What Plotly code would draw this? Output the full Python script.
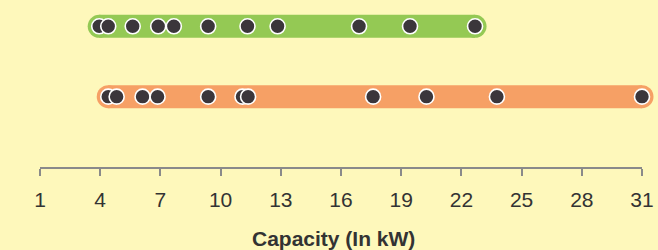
import plotly.graph_objects as go

# Data
rows = ["Series A", "Series B"]
row_positions = [2, 1]
series_a_values = [3.95, 4.40, 5.62, 6.89, 7.67, 9.38, 11.34, 12.84, 16.90, 19.44, 22.68]
series_b_values = [4.40, 4.82, 6.11, 6.86, 9.38, 11.09, 11.37, 17.60, 20.26, 23.77, 31.0]
bar_colors = ["#94c954", "#f6a065"]
tick_values = list(range(1, 32, 3))

fig = go.Figure()

for name, ypos, vals, col in zip(rows, row_positions, [series_a_values, series_b_values], bar_colors):
    lo, hi = min(vals), max(vals)
    # range bar with rounded ends
    fig.add_trace(go.Scatter(
        x=[lo, hi], y=[ypos, ypos], mode="lines+markers",
        line=dict(color=col, width=23),
        marker=dict(color=col, size=23, line=dict(width=0)),
        cliponaxis=False, hoverinfo="skip", showlegend=False, name=name,
    ))
    fig.add_trace(go.Scatter(
        x=sorted(vals), y=[ypos] * len(vals), mode="markers",
        marker=dict(color="#3b363b", size=15, line=dict(color="white", width=1.6)),
        cliponaxis=False, showlegend=False, name=name,
    ))

fig.update_layout(
    width=658, height=250,
    margin=dict(l=40, r=16, t=10, b=83, autoexpand=False),
    paper_bgcolor="#fef8bb", plot_bgcolor="#fef8bb",
    font=dict(family="Liberation Sans, Arial, sans-serif", color="#333333"),
    xaxis=dict(
        range=[1, 31], tickvals=tick_values, ticktext=[str(v) for v in tick_values],
        showgrid=False, zeroline=False, showline=True, linecolor="#8a8a8a", linewidth=2,
        ticks="outside", ticklen=7, tickwidth=2, tickcolor="#8a8a8a",
        tickfont=dict(size=21, color="#333333"), automargin=False,
        ticklabelstandoff=6,
    ),
    yaxis=dict(range=[0, 2.232], visible=False, showgrid=False, zeroline=False),
    annotations=[dict(
        text="<b>Capacity (In kW)</b>", xref="paper", yref="paper",
        x=0.4875, y=0, xanchor="center", yanchor="middle", yshift=-71,
        showarrow=False, font=dict(size=21, color="#333333"),
    )],
)

fig.write_html(
    "out.html",
    config={"displayModeBar": False},
    post_script="document.body.style.margin='0';document.body.style.background='#fef8bb';",
)
